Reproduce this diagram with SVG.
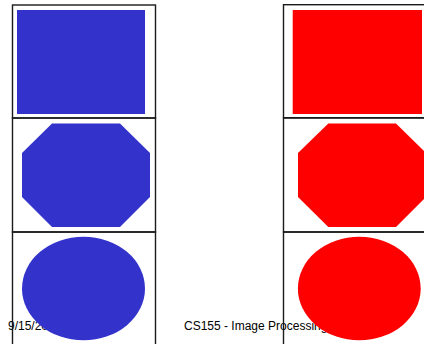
<svg xmlns="http://www.w3.org/2000/svg" width="424" height="344" viewBox="0 0 424 344">
<style>
.frame{fill:none;stroke:#1a1a1a;stroke-width:1.4}
.blue{fill:#3333cc}
.red{fill:#ff0000}
.lbl{font-family:"Liberation Sans",Arial,sans-serif;font-size:12px;fill:#000}
</style>
<rect width="424" height="344" fill="#fff"/>
<g id="footer">
<text class="lbl" x="8" y="330">9/15/2011</text>
<text class="lbl" x="184" y="330">CS155 - Image Processing</text>
</g>
<g id="left-column">
<g id="blue-rect"><rect class="frame" x="12.5" y="5" width="143" height="113"/><rect class="blue" x="17" y="10" width="128" height="104"/></g>
<g id="blue-octagon"><rect class="frame" x="12.5" y="118" width="143" height="114"/><polygon class="blue" points="52,123.5 120,123.5 150,153 150,197 120,227 52,227 22,197 22,153"/></g>
<g id="blue-ellipse"><path class="frame" d="M12.5,345 V232 H155.5 V345"/><ellipse class="blue" cx="83.5" cy="288.5" rx="61.5" ry="51.8"/></g>
</g>
<g id="right-column">
<g id="red-rect"><rect class="frame" x="283.5" y="4.7" width="145" height="113"/><rect class="red" x="292.7" y="10" width="129.3" height="104"/></g>
<g id="red-octagon"><rect class="frame" x="283.5" y="118" width="145" height="114"/><polygon class="red" points="328.3,123.5 396,123.5 426,153 426,197 396,227 328.3,227 298,197 298,153"/></g>
<g id="red-ellipse"><path class="frame" d="M283.5,345 V232 H428"/><ellipse class="red" cx="359.3" cy="288.5" rx="61.4" ry="51.8"/></g>
</g>
</svg>
